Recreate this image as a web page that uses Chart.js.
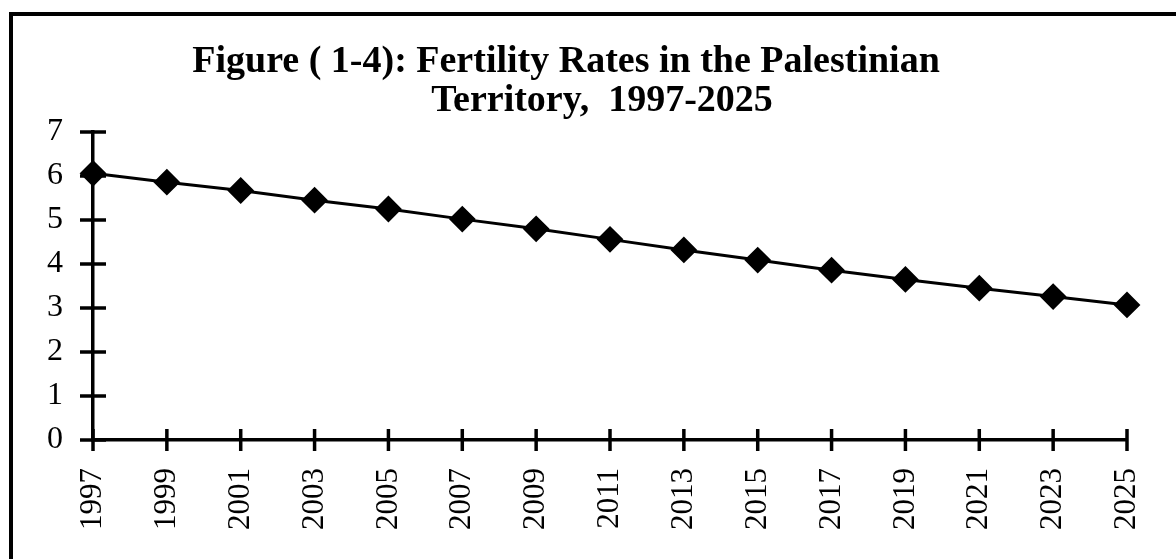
<!DOCTYPE html>
<html>
<head>
<meta charset="utf-8">
<script src="https://cdn.jsdelivr.net/npm/chart.js@4/dist/chart.umd.min.js"></script>
<style>
  html, body { margin: 0; padding: 0; background: #fff; }
  #wrap { width: 1176px; height: 559px; position: relative; }
</style>
</head>
<body>
<div id="wrap"><canvas id="c" width="1176" height="559"></canvas></div>
<script>
// ---- data ----
const years = ['1997','1999','2001','2003','2005','2007','2009','2011','2013','2015','2017','2019','2021','2023','2025'];
const fertility = [6.06, 5.86, 5.67, 5.45, 5.25, 5.02, 4.80, 4.56, 4.32, 4.09, 3.86, 3.65, 3.45, 3.26, 3.07];
const yMin = 0, yMax = 7, yStep = 1;
const titleLines = ['Figure ( 1-4): Fertility Rates in the Palestinian', 'Territory,  1997-2025'];

const SERIF = '"Liberation Serif", "Times New Roman", serif';

const decorPlugin = {
  id: 'decor',
  beforeDraw(chart) {
    const ctx = chart.ctx;
    ctx.save();
    ctx.fillStyle = '#fff';
    ctx.fillRect(0, 0, chart.width, chart.height);
    ctx.strokeStyle = '#000';
    ctx.lineWidth = 4;
    ctx.strokeRect(11, 14, chart.width + 20, chart.height + 20);
    ctx.restore();
  },
  beforeDatasetsDraw(chart) {
    const ctx = chart.ctx;
    const xs = chart.scales.x, ys = chart.scales.y;
    const ca = chart.chartArea;
    ctx.save();
    ctx.strokeStyle = '#000';
    ctx.lineWidth = 3.5;
    ctx.lineCap = 'butt';
    ys.ticks.forEach((t, i) => {
      const py = ys.getPixelForTick(i);
      ctx.beginPath();
      ctx.moveTo(ca.left - 13, py);
      ctx.lineTo(ca.left + 13, py);
      ctx.stroke();
    });
    xs.ticks.forEach((t, i) => {
      const px = xs.getPixelForTick(i);
      ctx.beginPath();
      ctx.moveTo(px, ca.bottom - 11);
      ctx.lineTo(px, ca.bottom + 11);
      ctx.stroke();
    });
    ctx.restore();
  },
  afterDraw(chart) {
    const ctx = chart.ctx;
    ctx.save();
    ctx.fillStyle = '#000';
    ctx.font = 'bold 38px ' + SERIF;
    ctx.textAlign = 'center';
    ctx.textBaseline = 'alphabetic';
    ctx.fillText(titleLines[0], 566, 72);
    ctx.fillText(titleLines[1], 602, 111);
    ctx.restore();
  }
};

new Chart(document.getElementById('c'), {
  type: 'line',
  data: {
    labels: years,
    datasets: [{
      data: fertility,
      borderColor: '#000',
      backgroundColor: '#000',
      borderWidth: 3,
      pointStyle: 'rectRot',
      pointRadius: 12,
      pointBorderWidth: 2,
      pointBackgroundColor: '#000',
      pointBorderColor: '#000',
      tension: 0,
      fill: false
    }]
  },
  options: {
    responsive: false,
    animation: false,
    devicePixelRatio: 1,
    layout: { padding: { top: 132, right: 49, left: 0, bottom: 0 } },
    plugins: {
      legend: { display: false },
      title: { display: false },
      tooltip: { enabled: false }
    },
    scales: {
      x: {
        type: 'category',
        offset: false,
        grid: { display: false, drawTicks: false },
        border: { display: true, color: '#000', width: 3.5 },
        ticks: {
          color: '#000',
          font: { family: SERIF, size: 31 },
          minRotation: 90,
          maxRotation: 90,
          autoSkip: false,
          padding: 28
        },
        afterFit(s) { s.height = 119; s.paddingLeft = 0; s.paddingRight = 0; }
      },
      y: {
        min: yMin,
        max: yMax,
        grid: { display: false, drawTicks: false },
        border: { display: true, color: '#000', width: 3.5 },
        ticks: {
          stepSize: yStep,
          color: '#000',
          font: { family: SERIF, size: 32 },
          padding: 30
        },
        afterFit(s) { s.width = 93; }
      }
    }
  },
  plugins: [decorPlugin]
});
</script>
</body>
</html>
